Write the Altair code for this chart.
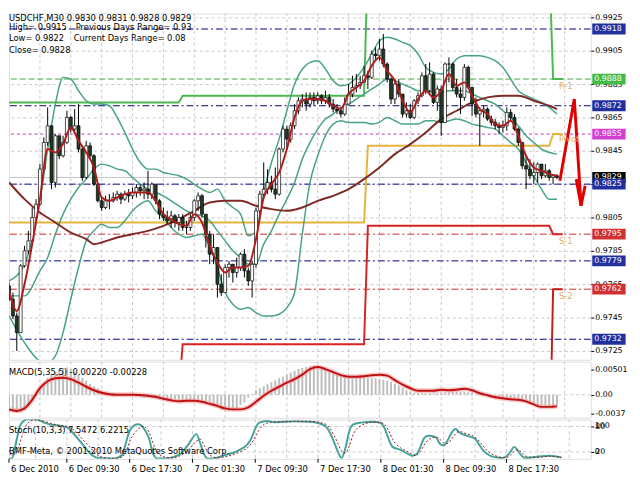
import altair as alt
import pandas as pd
import numpy as np

FONT = "DejaVu Sans"
W, H1, H2, H3 = 593, 353, 57, 40

# ---------------- price bars (M30, bar 0 = 6 Dec 01:30) ----------------
first_open = 0.9764
close = [
    0.9756, 0.9746, 0.9736, 0.9776, 0.9785, 0.9791, 0.9805, 0.9813, 0.9834, 0.9850,
    0.9860, 0.9826, 0.9854, 0.9842, 0.9850, 0.9865, 0.9858, 0.9860, 0.9846, 0.9829,
    0.9848, 0.9842, 0.9825, 0.9815, 0.9811, 0.9815, 0.9815, 0.9817, 0.9819, 0.9816,
    0.9819, 0.9818, 0.9820, 0.9823, 0.9821, 0.9822, 0.9819, 0.9825, 0.9815, 0.9807,
    0.9805, 0.9803, 0.9806, 0.9802, 0.9805, 0.9799, 0.9799, 0.9805, 0.9815, 0.9818,
    0.9807, 0.9795, 0.9783, 0.9787, 0.9765, 0.9760, 0.9775, 0.9777, 0.9772, 0.9775,
    0.9783, 0.9773, 0.9767, 0.9777, 0.9809, 0.9819, 0.9822, 0.9826, 0.9822, 0.9819,
    0.9846, 0.9858, 0.9852, 0.9860, 0.9869, 0.9875, 0.9876, 0.9873, 0.9877, 0.9875,
    0.9878, 0.9875, 0.9877, 0.9873, 0.9870, 0.9869, 0.9867, 0.9873, 0.9879, 0.9883,
    0.9884, 0.9886, 0.9890, 0.9889, 0.9903, 0.9902, 0.9906, 0.9897, 0.9888, 0.9876,
    0.9885, 0.9879, 0.9867, 0.9869, 0.9865, 0.9875, 0.9878, 0.9890, 0.9881, 0.9891,
    0.9874, 0.9882, 0.9862, 0.9897, 0.9897, 0.9883, 0.9879, 0.9877, 0.9895, 0.9883,
    0.9873, 0.9867, 0.9869, 0.9870, 0.9864, 0.9862, 0.9860, 0.9859, 0.9860, 0.9868,
    0.9865, 0.9858, 0.9850, 0.9836, 0.9834, 0.9830, 0.9832, 0.9837, 0.9830, 0.9833,
    0.9829, 0.9830, 0.9829]
high = [
    0.9766, 0.9760, 0.9748, 0.9777, 0.9788, 0.9797, 0.9811, 0.9816, 0.9837, 0.9853,
    0.9871, 0.9860, 0.9855, 0.9854, 0.9854, 0.9869, 0.9866, 0.9870, 0.9873, 0.9848,
    0.9851, 0.9850, 0.9843, 0.9826, 0.9817, 0.9818, 0.9819, 0.9820, 0.9821, 0.9820,
    0.9821, 0.9822, 0.9823, 0.9825, 0.9825, 0.9826, 0.9833, 0.9826, 0.9822, 0.9816,
    0.9811, 0.9809, 0.9809, 0.9807, 0.9807, 0.9807, 0.9803, 0.9807, 0.9816, 0.9820,
    0.9819, 0.9807, 0.9797, 0.9795, 0.9787, 0.9771, 0.9777, 0.9779, 0.9777, 0.9781,
    0.9784, 0.9786, 0.9775, 0.9779, 0.9811, 0.9821, 0.9838, 0.9834, 0.9830, 0.9835,
    0.9847, 0.9860, 0.9860, 0.9862, 0.9873, 0.9877, 0.9879, 0.9880, 0.9880, 0.9880,
    0.9880, 0.9879, 0.9881, 0.9879, 0.9876, 0.9873, 0.9871, 0.9877, 0.9885, 0.9890,
    0.9891, 0.9890, 0.9896, 0.9893, 0.9905, 0.9907, 0.9912, 0.9915, 0.9898, 0.9889,
    0.9887, 0.9888, 0.9879, 0.9874, 0.9873, 0.9876, 0.9880, 0.9892, 0.9897, 0.9898,
    0.9892, 0.9884, 0.9884, 0.9898, 0.9901, 0.9898, 0.9888, 0.9883, 0.9897, 0.9896,
    0.9883, 0.9877, 0.9871, 0.9872, 0.9871, 0.9866, 0.9864, 0.9862, 0.9863, 0.9871,
    0.9870, 0.9867, 0.9859, 0.9850, 0.9842, 0.9840, 0.9838, 0.9838, 0.9834, 0.9837,
    0.9834, 0.9831, 0.9831]
low = [
    0.9755, 0.9744, 0.9725, 0.9736, 0.9775, 0.9783, 0.9789, 0.9803, 0.9812, 0.9832,
    0.9848, 0.9822, 0.9823, 0.9840, 0.9841, 0.9849, 0.9856, 0.9856, 0.9844, 0.9827,
    0.9828, 0.9840, 0.9824, 0.9814, 0.9809, 0.9810, 0.9810, 0.9814, 0.9815, 0.9813,
    0.9815, 0.9814, 0.9816, 0.9817, 0.9818, 0.9816, 0.9816, 0.9816, 0.9813, 0.9804,
    0.9803, 0.9801, 0.9799, 0.9799, 0.9797, 0.9797, 0.9795, 0.9797, 0.9803, 0.9809,
    0.9805, 0.9787, 0.9777, 0.9777, 0.9757, 0.9758, 0.9760, 0.9769, 0.9766, 0.9769,
    0.9773, 0.9769, 0.9764, 0.9757, 0.9775, 0.9807, 0.9818, 0.9819, 0.9820, 0.9816,
    0.9818, 0.9844, 0.9846, 0.9850, 0.9858, 0.9867, 0.9871, 0.9869, 0.9871, 0.9872,
    0.9873, 0.9873, 0.9873, 0.9871, 0.9868, 0.9867, 0.9865, 0.9866, 0.9873, 0.9877,
    0.9880, 0.9882, 0.9887, 0.9882, 0.9888, 0.9899, 0.9899, 0.9895, 0.9886, 0.9873,
    0.9873, 0.9877, 0.9865, 0.9865, 0.9864, 0.9864, 0.9873, 0.9877, 0.9879, 0.9880,
    0.9873, 0.9869, 0.9854, 0.9862, 0.9886, 0.9881, 0.9877, 0.9867, 0.9875, 0.9882,
    0.9866, 0.9865, 0.9848, 0.9865, 0.9863, 0.9860, 0.9858, 0.9855, 0.9856, 0.9857,
    0.9863, 0.9857, 0.9848, 0.9834, 0.9822, 0.9828, 0.9825, 0.9826, 0.9828, 0.9829,
    0.9827, 0.9825, 0.9828]

# ---------------- Bollinger bands (read every few bars) ----------------
band_i = [0, 4, 8, 10, 12, 14, 16, 18, 20, 22, 24, 26, 28, 30, 32, 34, 36, 38, 40, 42,
          44, 46, 48, 50, 52, 54, 56, 58, 60, 62, 64, 66, 68, 70, 72, 74, 76, 78, 80, 82,
          84, 86, 88, 90, 92, 94, 96, 98, 100, 102, 104, 106, 108, 110, 112, 114, 116, 118, 120, 122,
          124, 126, 128, 130, 132, 134, 136, 138, 140, 142]
band_up = [0.9767, 0.9777, 0.9815, 0.9846, 0.9873, 0.9889, 0.9888, 0.9881, 0.9875, 0.9873,
           0.9873, 0.9872, 0.9865, 0.9856, 0.9846, 0.9838, 0.9834, 0.9834, 0.9832, 0.9831,
           0.9830, 0.9828, 0.9825, 0.9822, 0.9820, 0.9822, 0.9815, 0.9811, 0.9807, 0.9794,
           0.9797, 0.9820, 0.9838, 0.9852, 0.9869, 0.9885, 0.9894, 0.9898, 0.9899, 0.9894,
           0.9887, 0.9884, 0.9885, 0.9889, 0.9895, 0.9903, 0.9911, 0.9913, 0.9912, 0.9910,
           0.9908, 0.9903, 0.9895, 0.9892, 0.9891, 0.9894, 0.9900, 0.9902, 0.9902, 0.9902,
           0.9901, 0.9899, 0.9895, 0.9888, 0.9881, 0.9878, 0.9876, 0.9874, 0.9871, 0.9867]
band_mid = [0.9758, 0.9758, 0.9773, 0.9781, 0.9795, 0.9807, 0.9816, 0.9823, 0.9828, 0.9834,
            0.9837, 0.9836, 0.9834, 0.9833, 0.9829, 0.9825, 0.9822, 0.9820, 0.9818, 0.9815,
            0.9812, 0.9809, 0.9807, 0.9806, 0.9803, 0.9797, 0.9791, 0.9785, 0.9781, 0.9777,
            0.9777, 0.9789, 0.9797, 0.9807, 0.9816, 0.9826, 0.9840, 0.9850, 0.9858, 0.9864,
            0.9867, 0.9871, 0.9873, 0.9876, 0.9879, 0.9882, 0.9885, 0.9888, 0.9887, 0.9885,
            0.9883, 0.9881, 0.9881, 0.9880, 0.9880, 0.9881, 0.9881, 0.9881, 0.9879, 0.9877,
            0.9875, 0.9873, 0.9869, 0.9865, 0.9860, 0.9854, 0.9850, 0.9846, 0.9844, 0.9843]
band_lo = [0.9746, 0.9730, 0.9719, 0.9718, 0.9722, 0.9736, 0.9756, 0.9775, 0.9791, 0.9797,
           0.9801, 0.9799, 0.9799, 0.9803, 0.9809, 0.9813, 0.9815, 0.9809, 0.9805, 0.9799,
           0.9795, 0.9793, 0.9794, 0.9795, 0.9787, 0.9775, 0.9760, 0.9753, 0.9750, 0.9751,
           0.9748, 0.9746, 0.9746, 0.9747, 0.9751, 0.9760, 0.9795, 0.9826, 0.9842, 0.9854,
           0.9861, 0.9863, 0.9862, 0.9862, 0.9862, 0.9861, 0.9862, 0.9865, 0.9863, 0.9861,
           0.9861, 0.9861, 0.9863, 0.9863, 0.9862, 0.9863, 0.9864, 0.9863, 0.9861, 0.9860,
           0.9859, 0.9858, 0.9854, 0.9850, 0.9846, 0.9838, 0.9830, 0.9822, 0.9816, 0.9816]

# slow (brown) moving average
slow_i = [0, 4, 8, 12, 16, 20, 22, 24, 28, 32, 36, 40, 44, 48, 52, 56, 60, 64, 68, 72,
          76, 80, 84, 88, 92, 96, 100, 104, 108, 112, 116, 120, 124, 128, 132, 136, 140, 142]
slow_ma = [0.9826, 0.9816, 0.9808, 0.9802, 0.9796, 0.9792, 0.9789, 0.9790, 0.9793, 0.9795,
           0.9797, 0.9800, 0.9804, 0.9809, 0.9814, 0.9815, 0.9815, 0.9812, 0.9810, 0.9809,
           0.9811, 0.9815, 0.9818, 0.9822, 0.9828, 0.9835, 0.9843, 0.9849, 0.9856, 0.9864,
           0.9869, 0.9874, 0.9877, 0.9878, 0.9878, 0.9875, 0.9872, 0.9870]

# fast (red) moving average, every 2 bars
fast_i = list(range(0, 143, 2))
fast_ma = [0.9761, 0.9749, 0.9765, 0.9789, 0.9816, 0.9846, 0.9844, 0.9849, 0.9859, 0.9851,
           0.9844, 0.9835, 0.9817, 0.9815, 0.9817, 0.9819, 0.9820, 0.9820, 0.9820, 0.9815,
           0.9807, 0.9804, 0.9801, 0.9800, 0.9807, 0.9802, 0.9788, 0.9778, 0.9772, 0.9775,
           0.9775, 0.9776, 0.9792, 0.9817, 0.9825, 0.9832, 0.9846, 0.9865, 0.9875, 0.9876,
           0.9876, 0.9875, 0.9872, 0.9870, 0.9879, 0.9883, 0.9887, 0.9896, 0.9901, 0.9893,
           0.9887, 0.9875, 0.9868, 0.9876, 0.9881, 0.9877, 0.9881, 0.9891, 0.9884, 0.9886,
           0.9878, 0.9870, 0.9867, 0.9861, 0.9860, 0.9863, 0.9854, 0.9842, 0.9835, 0.9833,
           0.9831, 0.9830]

# daily pivot levels (one value per trading day)
day_start = [0, 45, 93, 141]
day_end = [44, 92, 140, 143.5]
r1_lvl = [0.9874, 0.9878, 0.9960, 0.9888]
pv_lvl = [0.9802, 0.9802, 0.9848, 0.9855]
s1_lvl = [0.9700, 0.9729, 0.9800, 0.9795]
s2_lvl = [0.9650, 0.9650, 0.9650, 0.9762]
step_colors = {"R1": "#4DB84D", "PV": "#E6B43C", "S1": "#D42424", "S2": "#C01C1C"}
piv_names = ["R-1", "Pivot", "S-1", "S-2"]
piv_name_price = [0.9884, 0.9852, 0.9791, 0.9758]

# horizontal level lines and price tags
level_price = [0.9918, 0.9872, 0.9825, 0.9779, 0.9732, 0.9888, 0.9855, 0.9795, 0.9762]
level_kind = ["navy", "navy", "navy", "navy", "navy", "green", "magenta", "red", "red"]
kind_color = {"navy": "#000080", "green": "#44AA44", "magenta": "#C030C0", "red": "#C82828"}
bid = 0.9829
tag_price = [0.9918, 0.9888, 0.9872, 0.9855, 0.9829, 0.9795, 0.9779, 0.9762, 0.9732]
tag_color = ["#22309E", "#44BB44", "#22309E", "#D23FD2", "#000000", "#D03030", "#22309E",
             "#D03030", "#22309E"]
tag_top_price = [0.9825]
tag_top_color = ["#22309E"]

# hand-drawn forecast arrow
arrow_i = [142.75, 146.5, 148.25]
arrow_p = [0.9827, 0.9876, 0.9812]
head_i = [147.0, 148.25, 149.3]
head_p = [0.9828, 0.9812, 0.9824]

price_ticks = [0.9925, 0.9905, 0.9885, 0.9865, 0.9845, 0.9825, 0.9805, 0.9785, 0.9765,
               0.9745, 0.9725]

# ---------------- MACD(5,35,5) ----------------
macd_hist = [
    -0.0026, -0.0033, -0.0036, -0.0034, -0.0030, -0.0022, -0.0012, -0.0002, 0.0012, 0.0025,
    0.0034, 0.0041, 0.0046, 0.0051, 0.0053, 0.0054, 0.0051, 0.0046, 0.0041, 0.0034,
    0.0028, 0.0022, 0.0017, 0.0013, 0.0009, 0.0006, 0.0004, 0.0002, 0.0001, 0.0000,
    -0.0001, -0.0002, -0.0003, -0.0004, -0.0005, -0.0006, -0.0006, -0.0007, -0.0008, -0.0010,
    -0.0011, -0.0012, -0.0013, -0.0013, -0.0014, -0.0014, -0.0013, -0.0012, -0.0010, -0.0010,
    -0.0012, -0.0015, -0.0018, -0.0022, -0.0026, -0.0030, -0.0032, -0.0033, -0.0031, -0.0027,
    -0.0021, -0.0015, -0.0006, 0.0002, 0.0009, 0.0013, 0.0017, 0.0021, 0.0025, 0.0029,
    0.0033, 0.0036, 0.0040, 0.0044, 0.0048, 0.0051, 0.0053, 0.0055, 0.0057, 0.0058,
    0.0055, 0.0052, 0.0049, 0.0046, 0.0043, 0.0040, 0.0038, 0.0037, 0.0036, 0.0036,
    0.0036, 0.0036, 0.0035, 0.0034, 0.0034, 0.0033, 0.0032, 0.0030, 0.0028, 0.0026,
    0.0022, 0.0018, 0.0013, 0.0009, 0.0006, 0.0004, 0.0003, 0.0003, 0.0003, 0.0003,
    0.0003, 0.0003, 0.0004, 0.0005, 0.0005, 0.0006, 0.0006, 0.0006, 0.0006, 0.0005,
    0.0004, 0.0001, -0.0001, -0.0002, -0.0003, -0.0004, -0.0005, -0.0006, -0.0006, -0.0007,
    -0.0007, -0.0008, -0.0009, -0.0011, -0.0013, -0.0016, -0.0019, -0.0022, -0.0024, -0.0025,
    -0.0025, -0.0023, -0.0022]
sig_i = [0, 2, 4, 6, 8, 10, 12, 14, 16, 18, 20, 22, 24, 26, 28, 32, 36, 38, 40, 42,
         44, 46, 48, 50, 52, 54, 56, 58, 60, 62, 64, 66, 68, 70, 72, 74, 76, 78, 80, 82,
         84, 86, 88, 90, 92, 94, 96, 98, 100, 102, 104, 106, 108, 110, 112, 114, 116, 118, 120, 122,
         124, 126, 128, 130, 132, 134, 136, 138, 140, 142]
sig_v = [-0.0029, -0.0032, -0.0027, -0.0010, 0.0013, 0.0027, 0.0033, 0.0034, 0.0031, 0.0024,
         0.0016, 0.0009, 0.0004, 0.0001, 0.0000, 0.0000, -0.0002, -0.0004, -0.0008, -0.0011,
         -0.0013, -0.0012, -0.0012, -0.0014, -0.0018, -0.0022, -0.0027, -0.0029, -0.0029, -0.0025,
         -0.0014, -0.0002, 0.0008, 0.0016, 0.0024, 0.0031, 0.0040, 0.0051, 0.0055, 0.0051,
         0.0045, 0.0039, 0.0036, 0.0036, 0.0037, 0.0039, 0.0040, 0.0038, 0.0029, 0.0020,
         0.0013, 0.0008, 0.0008, 0.0008, 0.0010, 0.0009, 0.0010, 0.0012, 0.0009, 0.0003,
         -0.0001, -0.0005, -0.0007, -0.0009, -0.0010, -0.0013, -0.0019, -0.0024, -0.0024, -0.0023]
macd_tick_vals = [0.00501, 0.0, -0.0037]
macd_tick_text = ["0.00501", "0.00", "-0.0037"]

# ---------------- Stochastic(10,3,3) ----------------
st_i = [0, 1, 2, 3, 4, 5, 6, 8, 10, 12, 14, 16, 18, 20, 22, 24, 26, 28, 30, 31,
        32, 34, 35, 36, 37, 38, 39, 41, 43, 45, 47, 49, 50, 51, 52, 54, 56, 58, 60, 62,
        63, 64, 65, 67, 69, 71, 74, 78, 80, 82, 83, 84, 85, 86, 87, 88, 89, 91, 94, 96,
        97, 98, 99, 101, 103, 104, 105, 106, 107, 108, 110, 111, 112, 113, 114, 115, 116, 118, 120, 121,
        122, 123, 125, 127, 128, 129, 130, 131, 132, 133, 135, 137, 139, 141, 142]
st_main = [43, 5, 5, 40, 80, 93, 97, 97, 90, 84, 82, 78, 60, 38, 16, 6, 5, 5, 12, 40,
           70, 85, 82, 70, 50, 15, 5, 5, 8, 16, 38, 62, 40, 14, 4, 6, 12, 17, 25, 38,
           52, 75, 89, 93, 90, 91, 92, 91, 88, 80, 66, 45, 22, 6, 30, 70, 85, 89, 91, 88,
           75, 50, 32, 25, 15, 11, 14, 30, 52, 58, 55, 40, 35, 47, 65, 74, 66, 58, 51, 38,
           25, 16, 8, 6, 10, 20, 32, 22, 10, 6, 8, 10, 11, 9, 7.5]
st_sig = [50, 30, 12, 18, 40, 70, 88, 96, 93, 87, 83, 80, 70, 50, 30, 12, 6, 5, 8, 20,
          45, 72, 80, 78, 65, 40, 20, 8, 6, 12, 25, 45, 50, 35, 18, 7, 8, 13, 20, 30,
          40, 55, 72, 88, 91, 91, 92, 92, 90, 85, 76, 60, 42, 22, 18, 35, 62, 82, 90, 89,
          84, 70, 50, 30, 20, 14, 12, 20, 35, 48, 55, 50, 42, 40, 50, 62, 68, 62, 55, 46,
          35, 24, 12, 7, 7, 12, 22, 25, 18, 10, 7, 8, 10, 9, 6.2]

date_pos = [1.25, 16, 32, 48, 64, 80, 96, 112, 128]
date_text = ["6 Dec 2010", "6 Dec 09:30", "6 Dec 17:30", "7 Dec 01:30", "7 Dec 09:30",
             "7 Dec 17:30", "8 Dec 01:30", "8 Dec 09:30", "8 Dec 17:30"]
grid_i = list(range(8, 145, 8))

# ---------------- tables ----------------
opens = [first_open] + close[:-1]
bars = pd.DataFrame({"i": list(range(len(close))), "o": opens, "h": high, "l": low, "c": close})
bars["fill"] = np.where(bars["c"] >= bars["o"], "#FFFFFF", "#1F3B22")

nb = len(band_i)
bands = pd.DataFrame({"i": band_i * 3, "p": band_up + band_mid + band_lo,
                      "s": ["u"] * nb + ["m"] * nb + ["l"] * nb})
slow = pd.DataFrame({"i": slow_i, "p": slow_ma})
fast = pd.DataFrame({"i": fast_i, "p": fast_ma})

rows = []
for name, lv in [("R1", r1_lvl), ("PV", pv_lvl), ("S1", s1_lvl), ("S2", s2_lvl)]:
    for a, b, v in zip(day_start, day_end, lv):
        rows.append({"s": name, "i": a, "p": v, "col": step_colors[name]})
        rows.append({"s": name, "i": b, "p": v, "col": step_colors[name]})
steps = pd.DataFrame(rows)

levels = pd.DataFrame({"p": level_price, "k": level_kind,
                       "col": [kind_color[k] for k in level_kind]})
tags = pd.DataFrame({"p": tag_price, "col": tag_color})
tags_top = pd.DataFrame({"p": tag_top_price, "col": tag_top_color})
arrow = pd.DataFrame({"i": arrow_i + head_i, "p": arrow_p + head_p,
                      "s": ["a"] * len(arrow_i) + ["b"] * len(head_i)})
pnames = pd.DataFrame({"i": [142.5] * 4, "p": piv_name_price, "t": piv_names})

macd = pd.DataFrame({"i": list(range(len(macd_hist))), "h": macd_hist})
sig = pd.DataFrame({"i": sig_i, "v": sig_v})
st_main_df = pd.DataFrame({"i": st_i, "v": st_main})
st_sig_df = pd.DataFrame({"i": st_i, "v": st_sig})
dates = pd.DataFrame({"i": date_pos, "t": date_text})
vgrid = pd.DataFrame({"i": grid_i})

# ---------------- scales / axes ----------------
xs = alt.Scale(domain=[1.25, 149.5], nice=False, zero=False)
ys = alt.Scale(domain=[0.971971, 0.992735], nice=False, zero=False)
ms = alt.Scale(domain=[-0.00454, 0.00657], nice=False, zero=False)
ss = alt.Scale(domain=[3.85, 96.15], nice=False, zero=False)


def X(f="i"):
    return alt.X(f"{f}:Q", scale=xs, axis=None)


ax_common = dict(orient="right", tickSize=3, tickColor="black", domain=False, labelFont=FONT,
                 labelFontSize=8, labelColor="black", labelPadding=1, labelFlush=False,
                 labelOverlap=False, zindex=0, title=None)
ax_main = alt.Axis(values=price_ticks, format=".4f", grid=True, gridColor="#C8C8C8",
                   gridDash=[3, 3], **ax_common)
macd_expr = "".join(f"abs(datum.value - ({v})) < 0.000001 ? '{t}' : "
                    for v, t in zip(macd_tick_vals, macd_tick_text)) + "''"
ax_macd = alt.Axis(values=macd_tick_vals, labelExpr=macd_expr, grid=False, **ax_common)
ax_st = alt.Axis(values=[80, 20], format="d", grid=False, **ax_common)


def YM(f):
    return alt.Y(f"{f}:Q", scale=ys, axis=ax_main)


def YD(f):
    return alt.Y(f"{f}:Q", scale=ms, axis=ax_macd)


def YS(f):
    return alt.Y(f"{f}:Q", scale=ss, axis=ax_st)


def note(text, x, y, size=8.5, color="black"):
    return alt.Chart(pd.DataFrame({"t": [text]})).mark_text(
        align="left", baseline="middle", font=FONT, fontSize=size, color=color
    ).encode(x=alt.value(x), y=alt.value(y), text="t:N")


grid_layer = alt.Chart(vgrid).mark_rule(color="#C8C8C8", strokeDash=[3, 3], strokeWidth=1).encode(x=X())

# ---------------- main panel ----------------
lvl_layer = alt.Chart(levels).mark_rule(strokeWidth=1, clip=True).encode(
    y=YM("p"),
    color=alt.Color("col:N", scale=None),
    strokeDash=alt.StrokeDash("k:N", scale=alt.Scale(domain=["navy", "green", "magenta", "red"],
                                                     range=[[7, 3, 2, 3], [6, 3], [3, 3], [7, 3, 2, 3]]),
                              legend=None))
bid_layer = alt.Chart(pd.DataFrame({"p": [bid]})).mark_rule(color="#C4C4C4", strokeWidth=1).encode(y=YM("p"))
step_layer = alt.Chart(steps).mark_line(strokeWidth=2, clip=True).encode(
    x=X(), y=YM("p"), detail="s:N", color=alt.Color("col:N", scale=None))
band_layer = alt.Chart(bands).mark_line(strokeWidth=1.5, color="#47A383", interpolate="monotone",
                                        clip=True).encode(x=X(), y=YM("p"), detail="s:N")
slow_layer = alt.Chart(slow).mark_line(strokeWidth=2, color="#7F2A25", interpolate="monotone",
                                       clip=True).encode(x=X(), y=YM("p"))
wick_layer = alt.Chart(bars).mark_rule(color="black", strokeWidth=1, clip=True).encode(
    x=X(), y=YM("l"), y2="h:Q")
body_layer = alt.Chart(bars).mark_bar(size=3, stroke="black", strokeWidth=0.7, clip=True).encode(
    x=X(), y=YM("o"), y2="c:Q", color=alt.Color("fill:N", scale=None))
fast_layer = alt.Chart(fast).mark_line(strokeWidth=2, color="#B01C1C", interpolate="monotone",
                                       clip=True).encode(x=X(), y=YM("p"))
arrow_layer = alt.Chart(arrow).mark_line(strokeWidth=3, color="#E00000", clip=True).encode(
    x=X(), y=YM("p"), detail="s:N")
pname_layer = alt.Chart(pnames).mark_text(align="left", baseline="middle", font=FONT, fontSize=8.5,
                                          color="#E0B060").encode(x=X(), y=YM("p"), text="t:N")


def tag_layers(df):
    box = alt.Chart(df).mark_rule(strokeWidth=11, strokeCap="butt").encode(
        x=alt.value(W + 1.5), x2=alt.value(W + 35.5), y=YM("p"), color=alt.Color("col:N", scale=None))
    txt = alt.Chart(df).mark_text(align="left", baseline="middle", font=FONT, fontSize=8,
                                  color="white").encode(
        x=alt.value(W + 3.5), y=YM("p"), text=alt.Text("p:Q", format=".4f"))
    return [box, txt]


main = alt.layer(
    grid_layer, lvl_layer, bid_layer, step_layer, band_layer, slow_layer,
    wick_layer, body_layer, fast_layer, arrow_layer, pname_layer,
    note("USDCHF,M30  0.9830 0.9831 0.9828 0.9829", 0, 4.5),
    note("High= 0.9915", 0, 13.5), note("Previous Days Range= 0.93", 68, 13.5),
    note("Low= 0.9822", 0, 25.5), note("Current Days Range= 0.08", 66, 25.5),
    note("Close= 0.9828", 0, 37.5),
    *tag_layers(tags), *tag_layers(tags_top),
).properties(width=W, height=H1)

# ---------------- MACD panel ----------------
macd_panel = alt.layer(
    grid_layer,
    alt.Chart(pd.DataFrame({"v": [0.0]})).mark_rule(color="#C8C8C8", strokeDash=[3, 3]).encode(y=YD("v")),
    alt.Chart(macd).mark_bar(size=2, color="#BDBDBD", clip=True).encode(x=X(), y=YD("h"), y2=alt.datum(0)),
    alt.Chart(sig).mark_line(strokeWidth=5, color="#F2A6A6", opacity=0.6, interpolate="monotone",
                             clip=True).encode(x=X(), y=YD("v")),
    alt.Chart(sig).mark_line(strokeWidth=2, color="#C01010", interpolate="monotone",
                             clip=True).encode(x=X(), y=YD("v")),
    note("MACD(5,35,5) -0.00220 -0.00228", 0, 10.5),
).properties(width=W, height=H2)

# ---------------- Stochastic panel ----------------
stoch_panel = alt.layer(
    grid_layer,
    alt.Chart(pd.DataFrame({"v": [80, 20]})).mark_rule(color="#C8C8C8", strokeDash=[3, 3]).encode(y=YS("v")),
    alt.Chart(st_main_df).mark_line(strokeWidth=2, color="#45A39C", interpolate="monotone",
                                    clip=True).encode(x=X(), y=YS("v")),
    alt.Chart(st_sig_df).mark_line(strokeWidth=1, color="#8C1A1A", strokeDash=[2, 2],
                                   interpolate="monotone", clip=True).encode(x=X(), y=YS("v")),
    alt.Chart(pd.DataFrame({"v": [80, 20], "t": ["100", "0"]})).mark_text(
        align="left", baseline="middle", font=FONT, fontSize=8).encode(
        x=alt.value(W + 4), y=YS("v"), text="t:N"),
    note("Stoch(10,3,3) 7.5472 6.2215", 0, 10.5),
    note("BMF-Meta, \u00a9 2001-2010 MetaQuotes Software Corp.", 0, 32),
    alt.Chart(dates).mark_rule(color="black").encode(x=X(), y=alt.value(H3), y2=alt.value(H3 + 4)),
    alt.Chart(dates).mark_text(align="left", baseline="middle", font=FONT, fontSize=8.5, dx=2).encode(
        x=X(), y=alt.value(H3 + 10), text="t:N"),
).properties(width=W, height=H3)

chart = alt.vconcat(main, macd_panel, stoch_panel, spacing=2, bounds="flush").properties(
    padding=0, background="white"
).configure_view(stroke="black", strokeWidth=1).configure(font=FONT)

chart.save("out.html", embed_options={"renderer": "svg", "actions": False})
